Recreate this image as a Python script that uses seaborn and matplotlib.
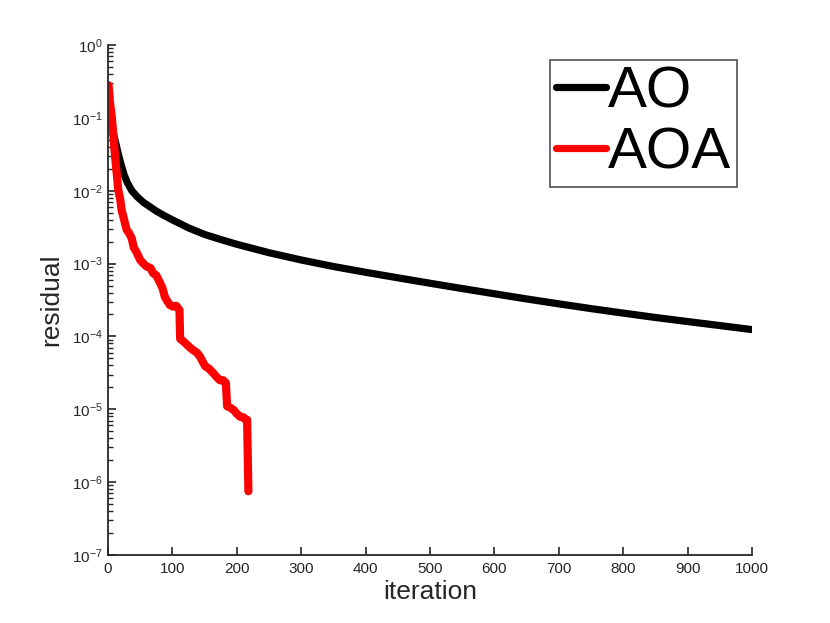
import numpy as np
import pandas as pd
import matplotlib
matplotlib.use("Agg")
import matplotlib.pyplot as plt
import matplotlib.ticker as mticker
from matplotlib import font_manager
import seaborn as sns

# ---- data (iteration, residual) ----
ao_iter = [1, 3, 5, 8, 11, 14, 17, 20, 25, 30, 37, 45, 55, 65, 75, 87, 100,
           125, 150, 175, 200, 250, 300, 350, 400, 450, 500, 550, 600, 650,
           700, 750, 800, 850, 900, 950, 1000]
ao_res = [1.58e-1, 1.12e-1, 8.71e-2, 6.31e-2, 4.90e-2, 3.80e-2, 2.95e-2,
          2.34e-2, 1.66e-2, 1.29e-2, 1.00e-2, 8.32e-3, 6.92e-3, 6.03e-3,
          5.25e-3, 4.57e-3, 3.98e-3, 3.09e-3, 2.51e-3, 2.14e-3, 1.84e-3,
          1.41e-3, 1.12e-3, 9.12e-4, 7.59e-4, 6.38e-4, 5.37e-4, 4.54e-4,
          3.85e-4, 3.27e-4, 2.80e-4, 2.41e-4, 2.09e-4, 1.82e-4, 1.60e-4,
          1.41e-4, 1.24e-4]

aoa_iter = [1, 3, 6, 8, 11, 14, 16, 19, 21, 25, 29, 33, 37, 40, 44, 50, 55,
            60, 66, 70, 75, 81, 85, 88, 91, 96, 101, 106, 111, 112, 116, 120,
            126, 132, 138, 143, 147, 151, 157, 164, 169, 174, 179, 183, 185,
            190, 195, 200, 205, 210, 214, 216, 218]
aoa_res = [2.8e-1, 1.66e-1, 1.0e-1, 6.3e-2, 2.95e-2, 1.58e-2, 1.02e-2,
           7.6e-3, 5.5e-3, 4.0e-3, 2.9e-3, 2.6e-3, 2.2e-3, 1.66e-3, 1.45e-3,
           1.12e-3, 1.0e-3, 9.1e-4, 8.7e-4, 7.4e-4, 6.9e-4, 5.4e-4, 4.5e-4,
           3.55e-4, 3.16e-4, 2.7e-4, 2.57e-4, 2.63e-4, 2.3e-4, 9.3e-5, 8.7e-5,
           8.1e-5, 7.2e-5, 6.5e-5, 6.0e-5, 5.25e-5, 4.5e-5, 3.9e-5, 3.6e-5,
           3.1e-5, 2.75e-5, 2.5e-5, 2.5e-5, 2.3e-5, 1.1e-5, 1.05e-5, 9.8e-6,
           8.7e-6, 7.9e-6, 7.8e-6, 7.1e-6, 7.2e-6, 7.5e-7]

labels = ["AO", "AOA"]
colors = ["#000000", "#ff0000"]
x_ticks = list(range(0, 1001, 100))

df = pd.concat([
    pd.DataFrame({"iteration": ao_iter, "residual": ao_res, "method": labels[0]}),
    pd.DataFrame({"iteration": aoa_iter, "residual": aoa_res, "method": labels[1]}),
], ignore_index=True)

sns.set_style("ticks")
plt.rcParams["font.family"] = ["Liberation Sans", "DejaVu Sans"]
plt.rcParams["mathtext.fontset"] = "custom"
plt.rcParams["mathtext.rm"] = "Liberation Sans"
plt.rcParams["mathtext.it"] = "Liberation Sans:italic"

installed = {f.name for f in font_manager.fontManager.ttflist}
tick_family = ["Liberation Sans Narrow", "Liberation Sans", "DejaVu Sans"] \
    if "Liberation Sans Narrow" in installed else ["Liberation Sans", "DejaVu Sans"]

fig = plt.figure(figsize=(8.3, 6.23), dpi=100)
ax = fig.add_axes([108 / 830, 1 - 555 / 623, (752 - 108) / 830, (555 - 45) / 623])

sns.lineplot(data=df, x="iteration", y="residual", hue="method",
             palette=colors, linewidth=5.2, estimator=None, sort=True,
             ax=ax, legend=True)
lines = ax.get_lines()
if len(lines) >= 2:
    lines[1].set_linewidth(5.9)

ax.set_yscale("log")
ax.set_xlim(0, 1000)
ax.set_ylim(1e-7, 1)
ax.set_xticks(x_ticks)
ax.set_xticklabels([str(t) for t in x_ticks])
ax.yaxis.set_major_locator(mticker.LogLocator(base=10, numticks=10))
ax.yaxis.set_minor_locator(mticker.LogLocator(base=10, subs=np.arange(2, 10), numticks=20))
ax.yaxis.set_minor_formatter(mticker.NullFormatter())

for s in ["top", "right"]:
    ax.spines[s].set_visible(False)
for s in ["left", "bottom"]:
    ax.spines[s].set_color("#262626")
    ax.spines[s].set_linewidth(1.3)

ax.tick_params(axis="both", which="major", direction="in", length=6,
               width=1.2, color="#262626", labelsize=11, labelcolor="#262626")
ax.tick_params(axis="y", which="minor", direction="in", length=3.5,
               width=1.0, color="#262626")
ax.tick_params(axis="x", which="major", pad=5)
ax.tick_params(axis="y", which="major", pad=4)
for lab in ax.get_xticklabels():
    lab.set_family(tick_family)

ax.set_xlabel("iteration", fontsize=19, color="#262626", labelpad=3)
ax.set_ylabel("residual", fontsize=19, color="#262626", labelpad=6)

handles, _ = ax.get_legend_handles_labels()
leg = ax.legend(handles=handles, labels=labels, loc="upper right",
                bbox_to_anchor=(737 / 830, 1 - 60 / 623),
                bbox_transform=fig.transFigure,
                fontsize=42, frameon=True, fancybox=False, edgecolor="#262626",
                handlelength=0.85, handletextpad=0.04, labelspacing=0.12,
                borderpad=0.1, borderaxespad=0.0)
leg.get_frame().set_linewidth(1.2)
for txt in leg.get_texts():
    txt.set_color("#000000")
for line in leg.get_lines():
    line.set_linewidth(5.2)

fig.savefig("out.png", dpi=100)
